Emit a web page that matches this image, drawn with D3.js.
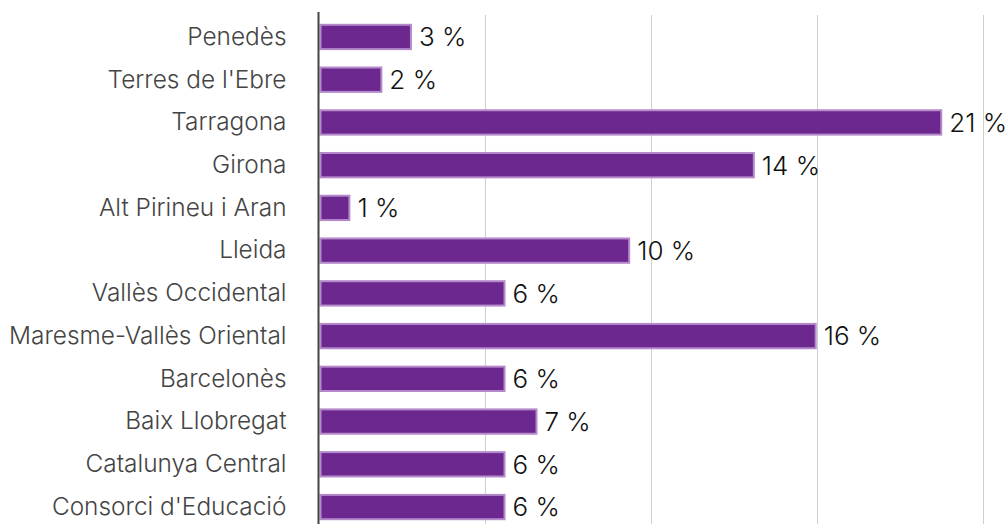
<!DOCTYPE html>
<html>
<head>
<meta charset="utf-8">
<script src="https://cdn.jsdelivr.net/npm/d3@7"></script>
<style>
  html, body { margin: 0; padding: 0; background: #fff; }
  svg { display: block; }
</style>
</head>
<body>
<div id="chart"></div>
<script>
// Share per region (percent)
const regions = ['Penedès', "Terres de l'Ebre", 'Tarragona', 'Girona', 'Alt Pirineu i Aran', 'Lleida',
  'Vallès Occidental', 'Maresme-Vallès Oriental', 'Barcelonès', 'Baix Llobregat', 'Catalunya Central', "Consorci d'Educació"];
const shares = [3.03, 2.05, 20.6, 14.39, 0.99, 10.26, 6.13, 16.44, 6.13, 7.19, 6.13, 6.13];
const gridTicks = [5.5, 11, 16.5, 22];

const width = 1007, height = 524;
const axisX = 318.5;

const svg = d3.select('#chart').append('svg')
  .attr('width', width)
  .attr('height', height);

const x = d3.scaleLinear().domain([0, 22]).range([axisX, 982.5]);
const y = d3.scaleBand().domain(regions).range([15.6, 528.4]).paddingInner(0.43).paddingOuter(0.215);

// gridlines
svg.append('g')
  .selectAll('line')
  .data(gridTicks)
  .join('line')
  .attr('x1', d => Math.round(x(d)) + 0.5)
  .attr('x2', d => Math.round(x(d)) + 0.5)
  .attr('y1', 15)
  .attr('y2', height)
  .attr('stroke', '#cfcfcf')
  .attr('stroke-width', 1);

// bars
svg.append('g')
  .selectAll('rect')
  .data(shares)
  .join('rect')
  .attr('x', x(0) + 2)
  .attr('y', (d, i) => y(regions[i]))
  .attr('width', d => x(d) - x(0) - 1)
  .attr('height', y.bandwidth())
  .attr('fill', '#6d288f')
  .attr('stroke', '#b48acb')
  .attr('stroke-width', 2);

// value labels
svg.append('g')
  .selectAll('text')
  .data(shares)
  .join('text')
  .attr('x', d => x(d) + 9)
  .attr('y', (d, i) => y(regions[i]) + y.bandwidth() / 2)
  .attr('dy', '0.36em')
  .attr('font-family', 'Inter, sans-serif')
  .attr('font-weight', 300)
  .attr('font-size', 26)
  .attr('fill', '#111')
  .text(d => Math.round(d) + ' %');

// category axis
const yAxis = svg.append('g')
  .attr('transform', `translate(${axisX},0)`)
  .call(d3.axisLeft(y).tickSize(0).tickPadding(32));
yAxis.select('.domain').remove();
yAxis.selectAll('text')
  .attr('font-family', 'Inter, sans-serif')
  .attr('font-weight', 300)
  .attr('font-size', 24.4)
  .attr('fill', '#444');

svg.append('line')
  .attr('x1', axisX)
  .attr('x2', axisX)
  .attr('y1', 12)
  .attr('y2', height)
  .attr('stroke', '#444')
  .attr('stroke-width', 2);
</script>
</body>
</html>
